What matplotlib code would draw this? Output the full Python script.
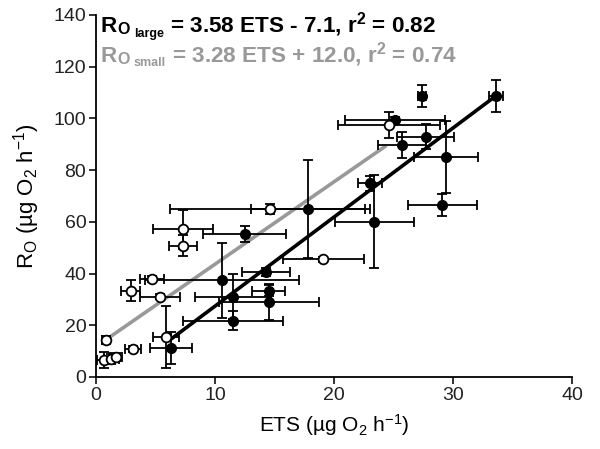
import matplotlib
matplotlib.use("Agg")
import matplotlib.pyplot as plt

plt.rcParams['font.family'] = ['Liberation Sans', 'DejaVu Sans']
plt.rcParams['mathtext.fontset'] = 'custom'
plt.rcParams['mathtext.rm'] = 'Liberation Sans'
plt.rcParams['mathtext.it'] = 'Liberation Sans:italic'
plt.rcParams['mathtext.bf'] = 'Liberation Sans:bold'

# Large individuals (filled)
large_ets = [6.3, 10.6, 11.5, 11.5, 12.5, 14.3, 14.5, 14.5, 17.8, 23.0, 23.4, 25.1, 25.7, 27.4, 27.7, 29.4, 29.1, 33.6]
large_ro = [11.3, 37.5, 31.1, 21.8, 55.3, 40.7, 33.4, 29.1, 65.0, 74.9, 60.1, 99.4, 89.7, 108.7, 92.9, 85.0, 66.5, 108.7]
large_ets_err = [1.8, 6.5, 3.2, 4.2, 3.5, 2.0, 1.4, 4.2, 4.8, 1.0, 3.3, 4.2, 2.0, 0.3, 2.4, 2.7, 2.9, 0.6]
large_ro_err = [6.2, 14.5, 8.7, 3.6, 3.0, 1.5, 2.0, 7.0, 19.0, 3.0, 18.0, 1.0, 5.0, 4.3, 4.8, 14.0, 4.2, 6.2]

# Small individuals (open)
small_ets = [0.8, 0.7, 1.3, 1.7, 3.1, 2.9, 4.7, 5.4, 5.9, 7.3, 7.3, 14.6, 19.1, 24.6]
small_ro = [14.3, 6.5, 7.0, 7.8, 10.8, 33.4, 37.9, 31.1, 15.3, 57.1, 50.8, 65.0, 45.5, 97.4]
small_ets_err = [0.3, 0.6, 0.6, 0.5, 0.7, 0.8, 1.0, 1.7, 1.1, 2.5, 1.2, 8.4, 3.4, 4.3]
small_ro_err = [1.5, 3.0, 2.0, 1.5, 1.0, 4.0, 1.0, 1.0, 12.0, 7.5, 4.0, 2.0, 1.0, 5.0]

# Regression lines (end points)
large_fit_x = [6.2, 33.6]
large_fit_y = [14.3, 108.7]
small_fit_x = [0.8, 24.4]
small_fit_y = [14.3, 89.5]

x_ticks = [0, 10, 20, 30, 40]
y_ticks = [0, 20, 40, 60, 80, 100, 120, 140]

eq_large = ' = 3.58 ETS - 7.1, r$^\\mathbf{2}$ = 0.82'
eq_small = ' = 3.28 ETS + 12.0, r$^\\mathbf{2}$ = 0.74'

fig = plt.figure(figsize=(6.0, 4.49), dpi=100)
ax = fig.add_axes([0.16, 0.1604, 0.7933, 0.8062])

ax.plot(small_fit_x, small_fit_y, color='#999999', lw=2.6, zorder=2, solid_capstyle='butt')
ax.plot(large_fit_x, large_fit_y, color='black', lw=2.6, zorder=2, solid_capstyle='butt')

ax.errorbar(large_ets, large_ro, xerr=large_ets_err, yerr=large_ro_err, fmt='o',
            color='black', mfc='black', mec='black', ms=7, elinewidth=1.3,
            capsize=3.6, capthick=1.3, zorder=3)
ax.errorbar(small_ets, small_ro, xerr=small_ets_err, yerr=small_ro_err, fmt='o',
            color='black', mfc='white', mec='black', mew=1.3, ms=7, elinewidth=1.3,
            capsize=3.6, capthick=1.3, zorder=4)

ax.set_xlim(0, 40)
ax.set_ylim(0, 140)
ax.set_xticks(x_ticks)
ax.set_yticks(y_ticks)
ax.spines['top'].set_visible(False)
ax.spines['right'].set_visible(False)
for s in ('left', 'bottom'):
    ax.spines[s].set_linewidth(1.3)
ax.tick_params(direction='out', length=5, width=1.3, labelsize=14, colors='#222222', pad=2)

ax.set_xlabel(r'ETS (µg O$_2$ h$^{\mathregular{-1}}$)', fontsize=15, labelpad=6)
ax.set_ylabel(r'R$_\mathregular{O}$ (µg O$_2$ h$^{\mathregular{-1}}$)', fontsize=16, labelpad=8)


def equation(x0, y0, sub, rest, color):
    kw = dict(fontweight='bold', color=color, ha='left', va='baseline')
    r = ax.text(x0, y0, 'R', fontsize=16.2, **kw)
    o = ax.annotate('O', xy=(1, y0), xycoords=(r, 'data'), xytext=(0.6, -1.5),
                    textcoords='offset points', fontsize=11.5, **kw)
    s = ax.annotate(sub, xy=(1, y0), xycoords=(o, 'data'), xytext=(3.0, -3.2),
                    textcoords='offset points', fontsize=9, **kw)
    ax.annotate(rest, xy=(1, y0), xycoords=(s, 'data'), xytext=(0, 0),
                textcoords='offset points', fontsize=16.2, **kw)


equation(0.35, 133.4, 'large', eq_large, 'black')
equation(0.35, 121.8, 'small', eq_small, '#999999')

fig.savefig('out.png', dpi=100)
